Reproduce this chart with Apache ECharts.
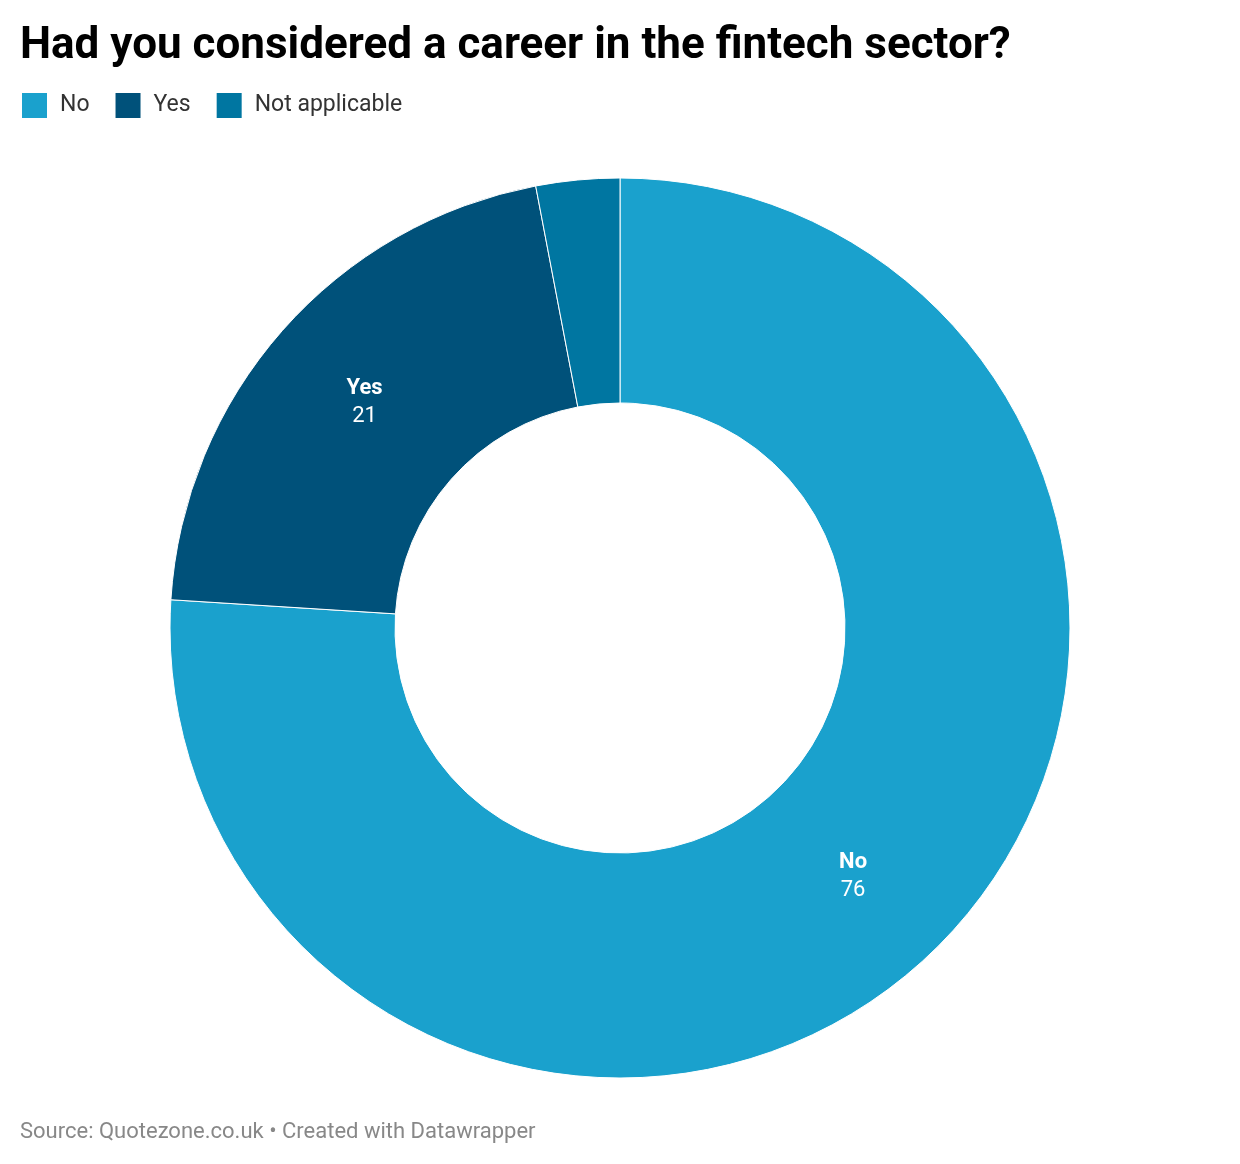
<!DOCTYPE html>
<html>
<head>
<meta charset="utf-8">
<script src="https://cdn.jsdelivr.net/npm/echarts@6/dist/echarts.min.js"></script>
<style>
html,body{margin:0;padding:0;background:#fff;}
#chart{width:1240px;height:1164px;}
</style>
</head>
<body>
<div id="chart"></div>
<script>
const categories = ['No', 'Yes', 'Not applicable'];
const values = [76, 21, 3];
const colors = ['#1aa1cd', '#00517a', '#0076a1'];
const titleText = 'Had you considered a career in the fintech sector?';
const sourceText = 'Source: Quotezone.co.uk \u2022 Created with Datawrapper';

const chart = echarts.init(document.getElementById('chart'));
chart.setOption({
  animation: false,
  color: colors,
  title: [
    {
      text: titleText,
      left: 20, top: 25, padding: 0,
      textStyle: {fontFamily: 'Roboto', fontSize: 44, fontWeight: 'bold', color: '#000'}
    },
    {
      text: sourceText,
      left: 20, top: 1121, padding: 0,
      textStyle: {fontFamily: 'Roboto', fontSize: 22, fontWeight: 'normal', color: '#888'}
    }
  ],
  legend: {
    left: 20, top: 91, padding: 0,
    icon: 'rect',
    itemWidth: 27, itemHeight: 27,
    itemGap: 24,
    data: categories,
    textStyle: {fontFamily: 'Roboto', fontSize: 23, color: '#333', padding: [0, 0, 0, 7]}
  },
  series: [{
    type: 'pie',
    center: [620, 628],
    radius: [225, 450],
    startAngle: 90,
    clockwise: true,
    avoidLabelOverlap: false,
    itemStyle: {borderColor: '#fff', borderWidth: 1},
    label: {
      show: true,
      position: 'inside',
      formatter: function (p) {
        return p.value >= 10 ? '{b|' + p.name + '}\n{v|' + p.value + '}' : '';
      },
      rich: {
        b: {fontFamily: 'Roboto', fontSize: 22, fontWeight: 'bold', color: '#fff', lineHeight: 28},
        v: {fontFamily: 'Roboto', fontSize: 22, color: '#fff', lineHeight: 28}
      }
    },
    labelLine: {show: false},
    emphasis: {disabled: true},
    data: categories.map((c, i) => ({name: c, value: values[i]}))
  }]
});
</script>
</body>
</html>
